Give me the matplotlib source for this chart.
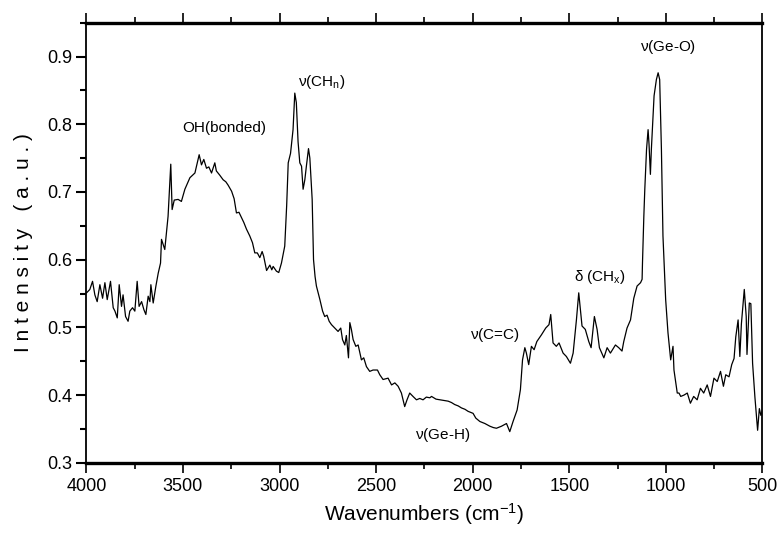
import matplotlib
matplotlib.use("Agg")
import matplotlib.pyplot as plt
from matplotlib.ticker import MultipleLocator

plt.rcParams['font.family'] = ['Liberation Sans', 'DejaVu Sans']
plt.rcParams['mathtext.fontset'] = 'custom'
plt.rcParams['mathtext.rm'] = 'Liberation Sans'
plt.rcParams['mathtext.it'] = 'Liberation Sans'

wavenumber = [
    3999, 3982, 3968, 3956, 3944, 3930, 3916, 3904, 3892, 3875, 3861, 3852, 3840, 3830,
    3818, 3810, 3797, 3784, 3775, 3761, 3749, 3737, 3727, 3714, 3702, 3692, 3680, 3671,
    3666, 3654, 3640, 3628, 3616, 3611, 3594, 3577, 3563, 3556, 3545, 3525, 3508, 3490,
    3464, 3438, 3416, 3404, 3392, 3378, 3366, 3352, 3335, 3327, 3310, 3292, 3278, 3266,
    3248, 3235, 3223, 3210, 3197, 3185, 3171, 3154, 3140, 3128, 3115, 3102, 3090, 3082,
    3067, 3050, 3040, 3033, 3016, 3004, 2990, 2973, 2963, 2955, 2943, 2930, 2921, 2913,
    2904, 2895, 2886, 2878, 2869, 2861, 2850, 2843, 2831, 2824, 2816, 2809, 2791, 2777,
    2766, 2754, 2743, 2731, 2714, 2697, 2683, 2674, 2662, 2654, 2643, 2636, 2628, 2619,
    2605, 2593, 2576, 2564, 2550, 2533, 2516, 2493, 2481, 2464, 2438, 2420, 2403, 2386,
    2369, 2352, 2340, 2326, 2309, 2291, 2274, 2257, 2240, 2222, 2213, 2190, 2170, 2150,
    2127, 2110, 2093, 2075, 2058, 2040, 2024, 1998, 1984, 1963, 1937, 1911, 1893, 1877,
    1851, 1825, 1808, 1791, 1770, 1753, 1742, 1730, 1722, 1710, 1696, 1682, 1668, 1644,
    1622, 1605, 1596, 1584, 1567, 1553, 1532, 1515, 1494, 1480, 1463, 1451, 1434, 1417,
    1399, 1387, 1370, 1356, 1344, 1321, 1304, 1287, 1261, 1244, 1227, 1218, 1201, 1183,
    1166, 1149, 1131, 1123, 1121, 1114, 1109, 1100, 1092, 1087, 1080, 1075, 1061, 1049,
    1040, 1032, 1023, 1015, 1001, 989, 975, 963, 958, 941, 932, 923, 906, 889, 873, 856,
    838, 821, 804, 786, 769, 751, 734, 717, 702, 690, 673, 659, 647, 638, 626, 617, 609,
    594, 584, 580, 568, 560, 551, 539, 525, 516, 508, 500,
]
intensity = [
    0.551, 0.556, 0.568, 0.548, 0.538, 0.563, 0.543, 0.566, 0.541, 0.568, 0.529, 0.524, 0.514, 0.563,
    0.531, 0.548, 0.516, 0.509, 0.524, 0.529, 0.524, 0.568, 0.531, 0.538, 0.526, 0.519, 0.546, 0.538,
    0.563, 0.536, 0.561, 0.580, 0.595, 0.630, 0.615, 0.664, 0.741, 0.674, 0.688, 0.689, 0.686, 0.704,
    0.721, 0.728, 0.755, 0.740, 0.748, 0.735, 0.737, 0.728, 0.743, 0.731, 0.725, 0.718, 0.715, 0.710,
    0.701, 0.690, 0.669, 0.670, 0.662, 0.655, 0.645, 0.635, 0.625, 0.610, 0.610, 0.603, 0.612, 0.605,
    0.584, 0.592, 0.585, 0.590, 0.583, 0.581, 0.595, 0.620, 0.680, 0.743, 0.757, 0.792, 0.846, 0.832,
    0.774, 0.743, 0.738, 0.704, 0.718, 0.738, 0.764, 0.750, 0.689, 0.600, 0.575, 0.561, 0.541, 0.524,
    0.516, 0.518, 0.509, 0.504, 0.499, 0.494, 0.499, 0.482, 0.474, 0.488, 0.455, 0.507, 0.497, 0.482,
    0.472, 0.474, 0.452, 0.455, 0.442, 0.435, 0.437, 0.437, 0.430, 0.423, 0.425, 0.415, 0.418, 0.413,
    0.403, 0.383, 0.393, 0.403, 0.398, 0.393, 0.395, 0.393, 0.397, 0.396, 0.398, 0.394, 0.393, 0.392,
    0.391, 0.389, 0.386, 0.384, 0.381, 0.379, 0.376, 0.373, 0.366, 0.361, 0.358, 0.354, 0.352, 0.351,
    0.354, 0.358, 0.346, 0.361, 0.378, 0.408, 0.452, 0.470, 0.462, 0.445, 0.472, 0.467, 0.479, 0.489,
    0.499, 0.504, 0.519, 0.477, 0.472, 0.477, 0.462, 0.457, 0.447, 0.462, 0.511, 0.551, 0.502, 0.497,
    0.479, 0.470, 0.516, 0.497, 0.470, 0.455, 0.470, 0.462, 0.474, 0.470, 0.465, 0.479, 0.499, 0.511,
    0.543, 0.561, 0.566, 0.571, 0.595, 0.664, 0.704, 0.763, 0.792, 0.770, 0.726, 0.763, 0.842, 0.866,
    0.876, 0.866, 0.763, 0.635, 0.541, 0.492, 0.452, 0.472, 0.437, 0.403, 0.403, 0.398, 0.400, 0.403, 0.388, 0.398,
    0.393, 0.410, 0.403, 0.415, 0.398, 0.425, 0.420, 0.435, 0.413, 0.430, 0.427, 0.445, 0.454, 0.486, 0.511, 0.457, 0.505,
    0.556, 0.516, 0.460, 0.536, 0.535, 0.447, 0.397, 0.348, 0.380, 0.370, 0.377,
]

xticks = [4000, 3500, 3000, 2500, 2000, 1500, 1000, 500]
yticks = [0.3, 0.4, 0.5, 0.6, 0.7, 0.8, 0.9]

labels = [
    ("OH(bonded)", 3288, 0.794),
    (r"$\nu$(CH$_\mathregular{n}$)", 2781, 0.862),
    (r"$\nu$(Ge-O)", 990, 0.914),
    (r"$\delta$ (CH$_\mathregular{x}$)", 1342, 0.575),
    (r"$\nu$(C=C)", 1886, 0.488),
    (r"$\nu$(Ge-H)", 2155, 0.341),
]

fig = plt.figure(figsize=(7.78, 5.40), dpi=100)
ax = fig.add_axes([0.111, 0.143, 0.869, 0.815])
ax.plot(wavenumber, intensity, color='black', lw=0.9)
ax.set_xlim(4000, 500)
ax.set_ylim(0.3, 0.95)

ax.set_xticks(xticks)
ax.set_yticks(yticks)
ax.set_yticklabels([f"{v:.1f}" for v in yticks])
ax.xaxis.set_minor_locator(MultipleLocator(250))
ax.yaxis.set_minor_locator(MultipleLocator(0.05))
ax.tick_params(axis='x', which='both', direction='out', top=True, bottom=True,
               labelsize=13, width=1.2, pad=4)
ax.tick_params(axis='x', which='major', length=7)
ax.tick_params(axis='x', which='minor', length=4)
ax.tick_params(axis='y', which='both', direction='out', left=True, right=False,
               labelsize=13, width=1.5, pad=3)
ax.tick_params(axis='y', which='major', length=7)
ax.tick_params(axis='y', which='minor', length=4)

for s in ['top', 'bottom']:
    ax.spines[s].set_linewidth(2.4)
for s in ['left', 'right']:
    ax.spines[s].set_linewidth(1.3)

for txt, x, y in labels:
    ax.text(x, y, txt, ha='center', va='center', fontsize=11)

ax.set_xlabel(r"Wavenumbers (cm$^\mathregular{-1}$)", fontsize=15, labelpad=4)
ax.set_ylabel("I n t e n s i t y   ( a . u . )", fontsize=15, labelpad=10)

fig.savefig("out.png", dpi=100)
